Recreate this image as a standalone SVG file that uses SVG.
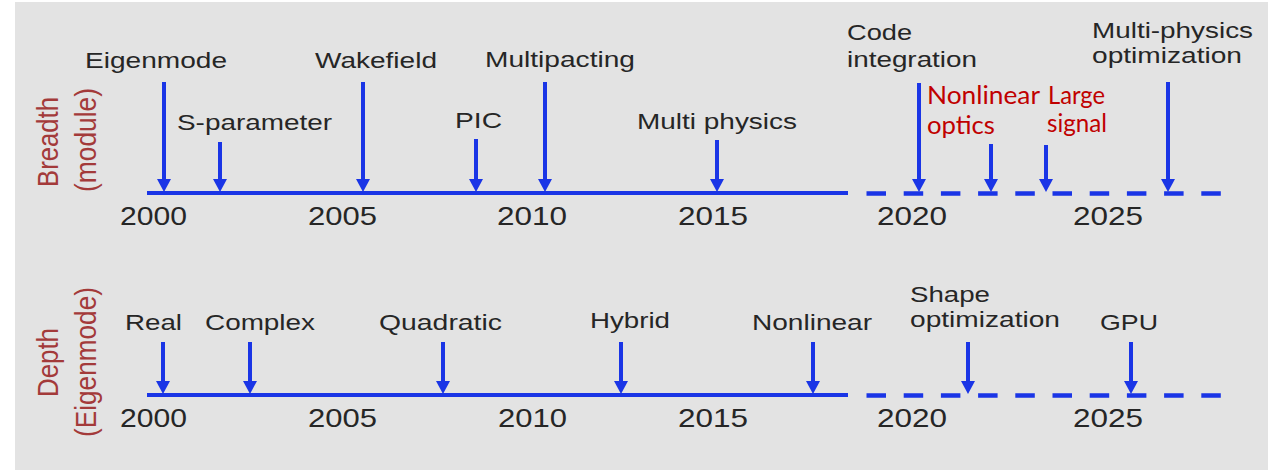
<svg xmlns="http://www.w3.org/2000/svg" width="1279" height="470" viewBox="0 0 1279 470">
<defs>
<style>
.bg{fill:#e3e3e3}
.lbl{font-family:"Liberation Sans",Arial,sans-serif;font-size:22px;fill:#262626}
.yr{font-family:"Liberation Sans",Arial,sans-serif;font-size:25px;fill:#262626}
.red{font-family:Lato,"Noto Sans",sans-serif;font-size:25px;fill:#c00000}
.ax{font-family:"Liberation Sans",Arial,sans-serif;font-size:23px;fill:#a33a3a}
.line{stroke:#1a35e6;stroke-width:4;fill:none}
.dash{stroke:#1a35e6;stroke-width:4.5;fill:none;stroke-dasharray:19.5 17.7}
.shaft{stroke:#1a35e6;stroke-width:4;fill:none}
.head{fill:#1a35e6}
</style>
</defs>
<rect x="0" y="0" width="1279" height="470" fill="#ffffff"/>
<rect class="bg" x="15" y="2" width="1253" height="468"/>

<g id="axis-labels">
<text class="ax" transform="translate(58,187) rotate(-90) scale(1,1.3)" textLength="90" lengthAdjust="spacingAndGlyphs">Breadth</text>
<text class="ax" transform="translate(96,192) rotate(-90) scale(1,1.3)" textLength="104" lengthAdjust="spacingAndGlyphs">(module)</text>
<text class="ax" transform="translate(58,397) rotate(-90) scale(1,1.3)" textLength="69" lengthAdjust="spacingAndGlyphs">Depth</text>
<text class="ax" transform="translate(96,437) rotate(-90) scale(1,1.3)" textLength="150" lengthAdjust="spacingAndGlyphs">(Eigenmode)</text>
</g>

<g id="connectors">
<line class="line" x1="147" y1="193" x2="848" y2="193"/>
<line class="dash" x1="866.5" y1="193.5" x2="1222" y2="193.5"/>
<line class="line" x1="147" y1="395" x2="848" y2="395"/>
<line class="dash" x1="866.5" y1="395.5" x2="1222" y2="395.5"/>
</g>

<g id="years-top">
<text class="yr" x="120" y="225" textLength="67" lengthAdjust="spacingAndGlyphs">2000</text>
<text class="yr" x="308" y="225" textLength="69" lengthAdjust="spacingAndGlyphs">2005</text>
<text class="yr" x="497" y="225" textLength="70" lengthAdjust="spacingAndGlyphs">2010</text>
<text class="yr" x="678" y="225" textLength="70" lengthAdjust="spacingAndGlyphs">2015</text>
<text class="yr" x="877" y="225" textLength="70" lengthAdjust="spacingAndGlyphs">2020</text>
<text class="yr" x="1073" y="225" textLength="70" lengthAdjust="spacingAndGlyphs">2025</text>
</g>
<g id="years-bottom">
<text class="yr" x="120" y="427" textLength="67" lengthAdjust="spacingAndGlyphs">2000</text>
<text class="yr" x="308" y="427" textLength="69" lengthAdjust="spacingAndGlyphs">2005</text>
<text class="yr" x="498" y="427" textLength="69" lengthAdjust="spacingAndGlyphs">2010</text>
<text class="yr" x="678" y="427" textLength="70" lengthAdjust="spacingAndGlyphs">2015</text>
<text class="yr" x="877" y="427" textLength="70" lengthAdjust="spacingAndGlyphs">2020</text>
<text class="yr" x="1073" y="427" textLength="70" lengthAdjust="spacingAndGlyphs">2025</text>
</g>

<g id="eigenmode">
<line class="shaft" x1="164" y1="82" x2="164" y2="181"/>
<polygon class="head" points="157,179 171,179 164,192"/>
<text class="lbl" x="85" y="68" textLength="142" lengthAdjust="spacingAndGlyphs">Eigenmode</text>
</g>
<g id="s-parameter">
<line class="shaft" x1="220" y1="142" x2="220" y2="181"/>
<polygon class="head" points="213,179 227,179 220,192"/>
<text class="lbl" x="177" y="130" textLength="155" lengthAdjust="spacingAndGlyphs">S-parameter</text>
</g>
<g id="wakefield">
<line class="shaft" x1="363" y1="82" x2="363" y2="181"/>
<polygon class="head" points="356,179 370,179 363,192"/>
<text class="lbl" x="315" y="68" textLength="122" lengthAdjust="spacingAndGlyphs">Wakefield</text>
</g>
<g id="pic">
<line class="shaft" x1="476" y1="139" x2="476" y2="181"/>
<polygon class="head" points="469,179 483,179 476,192"/>
<text class="lbl" x="455" y="128" textLength="47" lengthAdjust="spacingAndGlyphs">PIC</text>
</g>
<g id="multipacting">
<line class="shaft" x1="545" y1="82" x2="545" y2="181"/>
<polygon class="head" points="538,179 552,179 545,192"/>
<text class="lbl" x="485" y="67" textLength="150" lengthAdjust="spacingAndGlyphs">Multipacting</text>
</g>
<g id="multi-physics">
<line class="shaft" x1="717" y1="140" x2="717" y2="181"/>
<polygon class="head" points="710,179 724,179 717,192"/>
<text class="lbl" x="637" y="129" textLength="160" lengthAdjust="spacingAndGlyphs">Multi physics</text>
</g>
<g id="code-integration">
<line class="shaft" x1="919" y1="83" x2="919" y2="181"/>
<polygon class="head" points="912,179 926,179 919,192"/>
<text class="lbl" x="847" y="40" textLength="65" lengthAdjust="spacingAndGlyphs">Code</text>
<text class="lbl" x="847" y="67" textLength="130" lengthAdjust="spacingAndGlyphs">integration</text>
</g>
<g id="nonlinear-optics">
<line class="shaft" x1="991" y1="144" x2="991" y2="181"/>
<polygon class="head" points="984,179 998,179 991,192"/>
<text class="red" x="927" y="104" textLength="113" lengthAdjust="spacingAndGlyphs">Nonlinear</text>
<text class="red" x="927" y="134" textLength="68" lengthAdjust="spacingAndGlyphs">optics</text>
</g>
<g id="large-signal">
<line class="shaft" x1="1046" y1="145" x2="1046" y2="181"/>
<polygon class="head" points="1039,179 1053,179 1046,192"/>
<text class="red" x="1048" y="104" textLength="57" lengthAdjust="spacingAndGlyphs">Large</text>
<text class="red" x="1047" y="132" textLength="60" lengthAdjust="spacingAndGlyphs">signal</text>
</g>
<g id="multi-physics-optimization">
<line class="shaft" x1="1168" y1="82" x2="1168" y2="181"/>
<polygon class="head" points="1161,179 1175,179 1168,192"/>
<text class="lbl" x="1092" y="38" textLength="161" lengthAdjust="spacingAndGlyphs">Multi-physics</text>
<text class="lbl" x="1092" y="63" textLength="150" lengthAdjust="spacingAndGlyphs">optimization</text>
</g>

<g id="real">
<line class="shaft" x1="163" y1="342" x2="163" y2="383"/>
<polygon class="head" points="156,381 170,381 163,394"/>
<text class="lbl" x="125" y="330" textLength="57" lengthAdjust="spacingAndGlyphs">Real</text>
</g>
<g id="complex">
<line class="shaft" x1="250" y1="342" x2="250" y2="383"/>
<polygon class="head" points="243,381 257,381 250,394"/>
<text class="lbl" x="205" y="330" textLength="110" lengthAdjust="spacingAndGlyphs">Complex</text>
</g>
<g id="quadratic">
<line class="shaft" x1="443" y1="342" x2="443" y2="383"/>
<polygon class="head" points="436,381 450,381 443,394"/>
<text class="lbl" x="379" y="330" textLength="123" lengthAdjust="spacingAndGlyphs">Quadratic</text>
</g>
<g id="hybrid">
<line class="shaft" x1="621" y1="342" x2="621" y2="383"/>
<polygon class="head" points="614,381 628,381 621,394"/>
<text class="lbl" x="590" y="328" textLength="80" lengthAdjust="spacingAndGlyphs">Hybrid</text>
</g>
<g id="nonlinear">
<line class="shaft" x1="813" y1="342" x2="813" y2="383"/>
<polygon class="head" points="806,381 820,381 813,394"/>
<text class="lbl" x="752" y="330" textLength="120" lengthAdjust="spacingAndGlyphs">Nonlinear</text>
</g>
<g id="shape-optimization">
<line class="shaft" x1="968" y1="342" x2="968" y2="383"/>
<polygon class="head" points="961,381 975,381 968,394"/>
<text class="lbl" x="910" y="302" textLength="80" lengthAdjust="spacingAndGlyphs">Shape</text>
<text class="lbl" x="910" y="327" textLength="150" lengthAdjust="spacingAndGlyphs">optimization</text>
</g>
<g id="gpu">
<line class="shaft" x1="1131" y1="342" x2="1131" y2="383"/>
<polygon class="head" points="1124,381 1138,381 1131,394"/>
<text class="lbl" x="1100" y="330" textLength="58" lengthAdjust="spacingAndGlyphs">GPU</text>
</g>
</svg>
